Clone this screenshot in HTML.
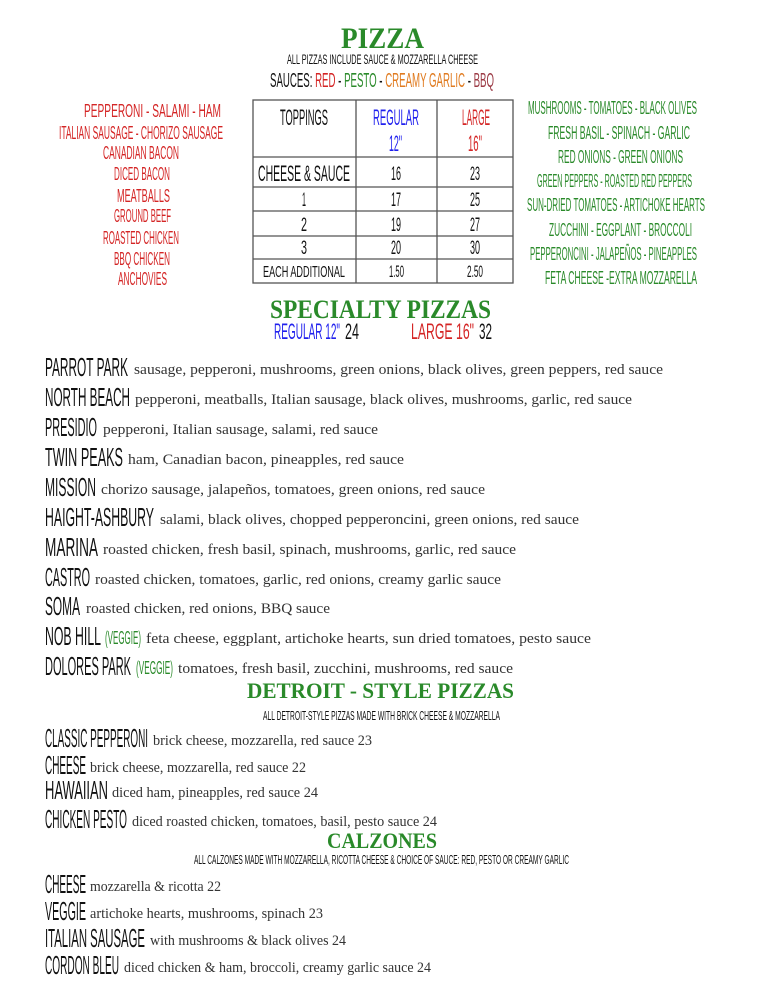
<!DOCTYPE html>
<html><head><meta charset="utf-8"><style>
html,body{margin:0;padding:0;background:#fff;}
svg{display:block}
.n{font-family:"Liberation Sans Narrow","Liberation Sans",sans-serif;fill:#111;}
.d{font-family:"Liberation Serif",serif;fill:#333;font-size:15px;}
.h{font-family:"Liberation Serif",serif;font-weight:bold;fill:#2a8a2a;}
.g{fill:#2a8a2a}.r{fill:#d42525}.b{fill:#2020ee}.o{fill:#e07b20}.q{fill:#9b3a45}
</style></head><body>
<svg width="763" height="987" viewBox="0 0 763 987" xmlns="http://www.w3.org/2000/svg">
<text class="h" x="341" y="48" font-size="30" textLength="83" lengthAdjust="spacingAndGlyphs">PIZZA</text>
<text class="n" x="287" y="64" font-size="14" textLength="191" lengthAdjust="spacingAndGlyphs">ALL PIZZAS INCLUDE SAUCE &amp; MOZZARELLA CHEESE</text>
<text class="n" x="270" y="87" font-size="20" textLength="224" lengthAdjust="spacingAndGlyphs">SAUCES: <tspan class="r">RED</tspan> - <tspan class="g">PESTO</tspan> - <tspan class="o">CREAMY GARLIC</tspan> - <tspan class="q">BBQ</tspan></text>

<g class="n" font-size="18" style="fill:#d42525">
<text x="84" y="117" textLength="137" lengthAdjust="spacingAndGlyphs">PEPPERONI - SALAMI - HAM</text>
<text x="59" y="139" textLength="164" lengthAdjust="spacingAndGlyphs">ITALIAN SAUSAGE - CHORIZO SAUSAGE</text>
<text x="103" y="159" textLength="76" lengthAdjust="spacingAndGlyphs">CANADIAN BACON</text>
<text x="114" y="180" textLength="56" lengthAdjust="spacingAndGlyphs">DICED BACON</text>
<text x="117" y="202" textLength="53" lengthAdjust="spacingAndGlyphs">MEATBALLS</text>
<text x="114" y="222" textLength="57" lengthAdjust="spacingAndGlyphs">GROUND BEEF</text>
<text x="103" y="244" textLength="76" lengthAdjust="spacingAndGlyphs">ROASTED CHICKEN</text>
<text x="114" y="265" textLength="56" lengthAdjust="spacingAndGlyphs">BBQ CHICKEN</text>
<text x="118" y="285" textLength="49" lengthAdjust="spacingAndGlyphs">ANCHOVIES</text>
</g>
<g class="n" font-size="18" style="fill:#2a8a2a">
<text x="528" y="114" textLength="169" lengthAdjust="spacingAndGlyphs">MUSHROOMS - TOMATOES - BLACK OLIVES</text>
<text x="548" y="139" textLength="142" lengthAdjust="spacingAndGlyphs">FRESH BASIL - SPINACH - GARLIC</text>
<text x="558" y="163" textLength="125" lengthAdjust="spacingAndGlyphs">RED ONIONS - GREEN ONIONS</text>
<text x="537" y="187" textLength="155" lengthAdjust="spacingAndGlyphs">GREEN PEPPERS - ROASTED RED PEPPERS</text>
<text x="527" y="211" textLength="178" lengthAdjust="spacingAndGlyphs">SUN-DRIED TOMATOES - ARTICHOKE HEARTS</text>
<text x="549" y="236" textLength="143" lengthAdjust="spacingAndGlyphs">ZUCCHINI - EGGPLANT - BROCCOLI</text>
<text x="530" y="260" textLength="167" lengthAdjust="spacingAndGlyphs">PEPPERONCINI - JALAPEÑOS - PINEAPPLES</text>
<text x="545" y="284" textLength="152" lengthAdjust="spacingAndGlyphs">FETA CHEESE -EXTRA MOZZARELLA</text>
</g>

<g stroke="#555" stroke-width="1.3" fill="none">
<rect x="253" y="100" width="260" height="183"/>
<line x1="356" y1="100" x2="356" y2="283"/><line x1="437" y1="100" x2="437" y2="283"/>
<line x1="253" y1="157" x2="513" y2="157"/><line x1="253" y1="187" x2="513" y2="187"/>
<line x1="253" y1="211" x2="513" y2="211"/><line x1="253" y1="236" x2="513" y2="236"/>
<line x1="253" y1="259" x2="513" y2="259"/>
</g>
<g class="n" font-size="22">
<text x="280" y="125" textLength="48" lengthAdjust="spacingAndGlyphs">TOPPINGS</text>
<text x="373" y="125" style="fill:#2020ee" textLength="46" lengthAdjust="spacingAndGlyphs">REGULAR</text>
<text x="389" y="151" style="fill:#2020ee" textLength="13" lengthAdjust="spacingAndGlyphs">12"</text>
<text x="462" y="125" style="fill:#d42525" textLength="28" lengthAdjust="spacingAndGlyphs">LARGE</text>
<text x="468" y="151" style="fill:#d42525" textLength="14" lengthAdjust="spacingAndGlyphs">16"</text>
<text x="258" y="181" textLength="92" lengthAdjust="spacingAndGlyphs">CHEESE &amp; SAUCE</text>
</g>
<g class="n" font-size="19">
<text x="391" y="180" textLength="10" lengthAdjust="spacingAndGlyphs">16</text><text x="470" y="180" textLength="10" lengthAdjust="spacingAndGlyphs">23</text>
<text x="302" y="206" textLength="4" lengthAdjust="spacingAndGlyphs">1</text><text x="391" y="206" textLength="10" lengthAdjust="spacingAndGlyphs">17</text><text x="470" y="206" textLength="10" lengthAdjust="spacingAndGlyphs">25</text>
<text x="301" y="231" textLength="6" lengthAdjust="spacingAndGlyphs">2</text><text x="391" y="231" textLength="10" lengthAdjust="spacingAndGlyphs">19</text><text x="470" y="231" textLength="10" lengthAdjust="spacingAndGlyphs">27</text>
<text x="301" y="254" textLength="6" lengthAdjust="spacingAndGlyphs">3</text><text x="391" y="254" textLength="10" lengthAdjust="spacingAndGlyphs">20</text><text x="470" y="254" textLength="10" lengthAdjust="spacingAndGlyphs">30</text>
<text x="263" y="277" font-size="16" textLength="82" lengthAdjust="spacingAndGlyphs">EACH ADDITIONAL</text>
<text x="389" y="277" font-size="17" textLength="15" lengthAdjust="spacingAndGlyphs">1.50</text><text x="467" y="277" font-size="17" textLength="16" lengthAdjust="spacingAndGlyphs">2.50</text>
</g>

<text class="h" x="270" y="318" font-size="26" textLength="221" lengthAdjust="spacingAndGlyphs">SPECIALTY PIZZAS</text>
<g class="n" font-size="22">
<text x="274" y="339" style="fill:#2020ee" textLength="66" lengthAdjust="spacingAndGlyphs">REGULAR 12"</text>
<text x="345" y="339" textLength="14" lengthAdjust="spacingAndGlyphs">24</text>
<text x="411" y="339" style="fill:#d42525" textLength="63" lengthAdjust="spacingAndGlyphs">LARGE 16"</text>
<text x="479" y="339" textLength="13" lengthAdjust="spacingAndGlyphs">32</text>
</g>

<g font-size="26">
<text class="n" x="45" y="376" textLength="83" lengthAdjust="spacingAndGlyphs">PARROT PARK</text>
<text class="d" x="134" y="374" textLength="529" lengthAdjust="spacingAndGlyphs">sausage, pepperoni, mushrooms, green onions, black olives, green peppers, red sauce</text>
<text class="n" x="45" y="406" textLength="85" lengthAdjust="spacingAndGlyphs">NORTH BEACH</text>
<text class="d" x="135" y="404" textLength="497" lengthAdjust="spacingAndGlyphs">pepperoni, meatballs, Italian sausage, black olives, mushrooms, garlic, red sauce</text>
<text class="n" x="45" y="436" textLength="52" lengthAdjust="spacingAndGlyphs">PRESIDIO</text>
<text class="d" x="103" y="434" textLength="275" lengthAdjust="spacingAndGlyphs">pepperoni, Italian sausage, salami, red sauce</text>
<text class="n" x="45" y="466" textLength="78" lengthAdjust="spacingAndGlyphs">TWIN PEAKS</text>
<text class="d" x="128" y="464" textLength="276" lengthAdjust="spacingAndGlyphs">ham, Canadian bacon, pineapples, red sauce</text>
<text class="n" x="45" y="496" textLength="51" lengthAdjust="spacingAndGlyphs">MISSION</text>
<text class="d" x="101" y="494" textLength="384" lengthAdjust="spacingAndGlyphs">chorizo sausage, jalapeños, tomatoes, green onions, red sauce</text>
<text class="n" x="45" y="526" textLength="109" lengthAdjust="spacingAndGlyphs">HAIGHT-ASHBURY</text>
<text class="d" x="160" y="524" textLength="419" lengthAdjust="spacingAndGlyphs">salami, black olives, chopped pepperoncini, green onions, red sauce</text>
<text class="n" x="45" y="556" textLength="53" lengthAdjust="spacingAndGlyphs">MARINA</text>
<text class="d" x="103" y="554" textLength="413" lengthAdjust="spacingAndGlyphs">roasted chicken, fresh basil, spinach, mushrooms, garlic, red sauce</text>
<text class="n" x="45" y="586" textLength="45" lengthAdjust="spacingAndGlyphs">CASTRO</text>
<text class="d" x="95" y="584" textLength="406" lengthAdjust="spacingAndGlyphs">roasted chicken, tomatoes, garlic, red onions, creamy garlic sauce</text>
<text class="n" x="45" y="615" textLength="35" lengthAdjust="spacingAndGlyphs">SOMA</text>
<text class="d" x="86" y="613" textLength="244" lengthAdjust="spacingAndGlyphs">roasted chicken, red onions, BBQ sauce</text>
<text class="n" x="45" y="645" textLength="56" lengthAdjust="spacingAndGlyphs">NOB HILL</text>
<text class="n" x="105" y="644" font-size="18" style="fill:#2a8a2a" textLength="36" lengthAdjust="spacingAndGlyphs">(VEGGIE)</text>
<text class="d" x="146" y="643" textLength="445" lengthAdjust="spacingAndGlyphs">feta cheese, eggplant, artichoke hearts, sun  dried tomatoes, pesto sauce</text>
<text class="n" x="45" y="675" textLength="86" lengthAdjust="spacingAndGlyphs">DOLORES PARK</text>
<text class="n" x="136" y="674" font-size="18" style="fill:#2a8a2a" textLength="37" lengthAdjust="spacingAndGlyphs">(VEGGIE)</text>
<text class="d" x="178" y="673" textLength="335" lengthAdjust="spacingAndGlyphs">tomatoes, fresh basil, zucchini, mushrooms, red sauce</text>
</g>

<text class="h" x="247" y="698" font-size="22" textLength="267" lengthAdjust="spacingAndGlyphs">DETROIT  - STYLE PIZZAS</text>
<text class="n" x="263" y="720" font-size="13" textLength="237" lengthAdjust="spacingAndGlyphs">ALL DETROIT-STYLE PIZZAS MADE WITH BRICK CHEESE &amp; MOZZARELLA</text>

<g font-size="26">
<text class="n" x="45" y="747" textLength="103" lengthAdjust="spacingAndGlyphs">CLASSIC PEPPERONI</text>
<text class="d" x="153" y="745" textLength="219" lengthAdjust="spacingAndGlyphs">brick cheese, mozzarella, red sauce 23</text>
<text class="n" x="45" y="774" textLength="41" lengthAdjust="spacingAndGlyphs">CHEESE</text>
<text class="d" x="90" y="772" textLength="216" lengthAdjust="spacingAndGlyphs">brick cheese, mozzarella, red sauce 22</text>
<text class="n" x="45" y="799" textLength="63" lengthAdjust="spacingAndGlyphs">HAWAIIAN</text>
<text class="d" x="112" y="797" textLength="206" lengthAdjust="spacingAndGlyphs">diced ham, pineapples, red sauce 24</text>
<text class="n" x="45" y="828" textLength="82" lengthAdjust="spacingAndGlyphs">CHICKEN PESTO</text>
<text class="d" x="132" y="826" textLength="305" lengthAdjust="spacingAndGlyphs">diced roasted chicken, tomatoes, basil, pesto sauce 24</text>
</g>

<text class="h" x="327" y="848" font-size="22" textLength="110" lengthAdjust="spacingAndGlyphs">CALZONES</text>
<text class="n" x="194" y="864" font-size="13" textLength="375" lengthAdjust="spacingAndGlyphs">ALL CALZONES MADE WITH MOZZARELLA, RICOTTA CHEESE &amp; CHOICE OF SAUCE: RED, PESTO OR CREAMY GARLIC</text>

<g font-size="26">
<text class="n" x="45" y="893" textLength="41" lengthAdjust="spacingAndGlyphs">CHEESE</text>
<text class="d" x="90" y="891" textLength="131" lengthAdjust="spacingAndGlyphs">mozzarella &amp; ricotta 22</text>
<text class="n" x="45" y="920" textLength="41" lengthAdjust="spacingAndGlyphs">VEGGIE</text>
<text class="d" x="90" y="918" textLength="233" lengthAdjust="spacingAndGlyphs">artichoke hearts, mushrooms, spinach 23</text>
<text class="n" x="45" y="947" textLength="100" lengthAdjust="spacingAndGlyphs">ITALIAN SAUSAGE</text>
<text class="d" x="150" y="945" textLength="196" lengthAdjust="spacingAndGlyphs">with mushrooms &amp; black olives 24</text>
<text class="n" x="45" y="974" textLength="74" lengthAdjust="spacingAndGlyphs">CORDON BLEU</text>
<text class="d" x="124" y="972" textLength="307" lengthAdjust="spacingAndGlyphs">diced chicken &amp; ham, broccoli, creamy garlic sauce 24</text>
</g>
</svg>
</body></html>
